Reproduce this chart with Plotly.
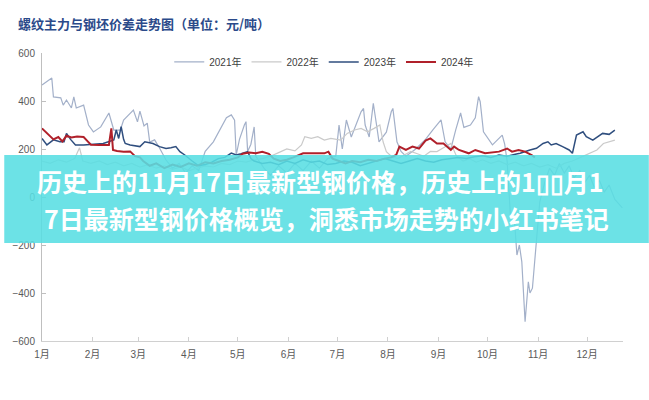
import plotly.graph_objects as go

# ---------------- data (day-of-year, spread 元/吨) ----------------
month_days = [0, 31, 59, 90, 120, 151, 181, 212, 243, 273, 304, 334]
month_labels = ["1月", "2月", "3月", "4月", "5月", "6月", "7月", "8月", "9月", "10月", "11月", "12月"]
y_ticks = [600, 400, 200, 0, -200, -400, -600]

series_2021 = [(0,467),(4,488),(6,496),(7,417),(11.5,413),(13,383),(15,404),(18,371),(19.5,417),(21,371),
    (25.5,383),(28.5,300),(31.5,271),(36,292),(39.5,329),(41,350),(44,279),(48,279),(50,321),(54,350),
    (56,362),(58.5,313),(60,358),(62.5,296),(64.5,308),(66,229),(69,238),(72,204),(76,154),(80,120),
    (84,140),(88,100),(92,130),(96,110),(100,190),(105,230),(110,290),(113,330),(116,342),(118,320),
    (119,175),(121,240),(124,300),(125,314),(126,190),(128,220),(130,292),(131,170),(133,150),(136,120),
    (140,90),(145,130),(150,100),(155,140),(160,110),(165,150),(170,120),(175,160),(180,170),(182,300),
    (184,200),(186.5,321),(189.5,250),(192.5,300),(195.5,355),(197,369),(198,300),(200.5,250),(203,390),
    (205,300),(206.5,230),(211,270),(214,355),(215,369),(217.5,230),(220,190),(223,170),(229,200),
    (235,240),(239.5,280),(244.5,321),(247,230),(250.5,200),(253.5,280),(256.5,350),(258.5,290),
    (262.5,300),(265.5,330),(267.5,418),(268.5,397),(270.5,272),(276,217),(282,258),(283.5,220),
    (285,150),(287,-75),(289,-60),(290,-145),(291,-242),(292.5,-200),(294,-270),(296,-520),(298,-353),
    (299,-400),(300.5,-380),(301.5,-300),(303.5,-158),(305,-20),(308,60),(311,120),(314,90),(317,140),
    (320,100),(323,130),(326,80),(329.5,110),(332.5,60),(335.5,90),(338.5,40),(341.5,70),(344.5,20),
    (347.5,50),(351,-10),(354,-30),(355.6,-45)]

series_2022 = [(0,150),(5,140),(10,155),(15,145),(20,160),(23,205),(25,150),(30,140),(35,150),(40,135),
    (45,145),(50,130),(55,140),(60,125),(65,135),(70,120),(75,130),(80,115),(85,125),(90,110),(95,120),
    (100,130),(105,125),(110,140),(115,135),(120,150),(125,145),(130,155),(135,160),(140,170),(145,185),
    (150,200),(155,192),(159,217),(161,251),(165,244),(169,251),(173,237),(177,244),(183,237),(187,265),
    (191.5,279),(195.5,286),(199.5,272),(203.5,286),(207,300),(209,230),(211,189),(214,170),(218,160),
    (222,175),(226,190),(230,180),(234,170),(238,190),(242,189),(246,205),(250.5,223),(254,170),
    (258,150),(262,160),(266,145),(270,155),(275,140),(280,150),(285,135),(290,145),(295,130),(300,140),
    (305,125),(310,135),(315,120),(320,140),(325,150),(330,165),(333.5,175),(337,185),(340,196),
    (344,223),(348,230),(351,237)]

series_2023 = [(0,244),(3,217),(7,238),(11,230),(13.5,230),(15,265),(17.5,240),(20.5,217),(25.5,217),
    (30,220),(37.5,223),(44,238),(45.5,279),(47,244),(48.5,293),(50,240),(51,223),(54,217),(57,213),
    (60,210),(63,230),(68,223),(72,210),(76,202),(79,205),(82,210),(84.5,189),(87.5,175),(92,150),
    (96,130),(100,135),(104,145),(108,160),(112,165),(116,183),(119,175),(122,180),(126,189),(128,160),
    (130,150),(135,140),(140,145),(145,135),(150,150),(155,140),(160,155),(165,145),(170,150),(175,135),
    (180,140),(185,150),(190,145),(195,130),(200,140),(205,150),(210,160),(215,150),(220,140),(225,150),
    (230,160),(235,150),(240,145),(245,155),(250,160),(255,165),(260,160),(265,168),(270,172),(275,165),
    (280,175),(285,170),(290,178),(293,182),(299,196),(303,203),(307,223),(310,230),(312,217),(315,223),
    (319,210),(323,196),(325,182),(327.5,258),(331.5,272),(333.5,251),(337.5,237),(340.5,251),
    (343.5,265),(347.5,261),(349.5,272),(351,279)]

series_2024 = [(0,286),(3,265),(7,240),(10,250),(12.5,232),(15,255),(18,248),(21.5,252),(25.5,250),
    (28,232),(30,218),(35,217),(41,217),(42.5,286),(43.5,196),(46,192),(50,189),(54,190),(57,170),
    (60,165),(62,150),(66,130),(70,140),(75,120),(80,135),(85,125),(90,140),(95,130),(100,145),(105,140),
    (110,150),(115,155),(120,165),(123,180),(127,185),(131,182),(135,188),(139,180),(142,160),(146,150),
    (150,155),(154,165),(157,175),(160,182),(167,182),(173,182),(175.5,189),(178,160),(182,150),
    (186,140),(190,150),(195,145),(200,155),(205,150),(210,160),(214,165),(217,175),(219,210),(223,196),
    (227,210),(231,202),(235,235),(238,244),(242,223),(246,223),(250.5,196),(252.5,210),(255.5,196),
    (261.5,182),(265.5,196),(271.5,182),(280,189),(285,202),(288,189),(292,196),(296,189),(300,175),
    (302,165)]

series_names = ["2021年", "2022年", "2023年", "2024年"]
chart_title = "螺纹主力与钢坯价差走势图（单位：元/吨）"
banner_line1 = "历史上的11月17日最新型钢价格，历史上的1\u25af\u25af月1"
banner_line2 = "7日最新型钢价格概览，洞悉市场走势的小红书笔记"

# ---------------- styles ----------------
styles = [
    dict(color="#A3B0C9", width=1.2),
    dict(color="#CACACA", width=1.2),
    dict(color="#2F4E7E", width=1.5),
    dict(color="#B0202A", width=2.0),
]

fig = go.Figure()
for name, data, st in zip(series_names,
                          [series_2021, series_2022, series_2023, series_2024], styles):
    fig.add_trace(go.Scatter(
        x=[d for d, _ in data], y=[v for _, v in data], mode="lines", name=name,
        line=dict(color=st["color"], width=st["width"]),
        hoverinfo="skip"))

tick_font = dict(family="Liberation Sans, Noto Sans CJK SC", size=10, color="#595959")

fig.update_layout(
    width=649, height=400,
    margin=dict(l=38, r=26, t=53, b=59),
    paper_bgcolor="white", plot_bgcolor="white",
    showlegend=True,
    legend=dict(orientation="h", x=0.219, y=0.969, xanchor="left", yanchor="middle",
                font=dict(family="Liberation Sans, Noto Sans CJK SC", size=10, color="#404040"),
                bgcolor="rgba(0,0,0,0)", tracegroupgap=0),
    title=dict(text=chart_title, x=18/649, xanchor="left", y=1-24/400, yanchor="middle",
               font=dict(family="Noto Sans CJK SC", size=13, color="#2B4A8A", weight="bold")),
    xaxis=dict(range=[0, 356], tickmode="array", tickvals=month_days, ticktext=month_labels,
               showgrid=False, zeroline=False, showline=True, linecolor="#D0D0D0", linewidth=1,
               ticks="inside", ticklen=4, tickcolor="#D0D0D0", tickfont=tick_font,
               ticklabelstandoff=4),
    yaxis=dict(range=[-600, 600], tickmode="array", tickvals=y_ticks,
               showgrid=False, zeroline=False, showline=True, linecolor="#BFBFBF", linewidth=1,
               ticks="inside", ticklen=4, tickcolor="#BFBFBF", tickfont=tick_font,
               ticklabelstandoff=4),
)

# translucent banner across the chart
fig.add_shape(type="rect", xref="paper", yref="paper",
              x0=-38/585, x1=(649-38)/585, y0=(341-243)/288, y1=(341-155)/288,
              fillcolor="rgba(88,222,226,0.88)", line=dict(width=0), layer="above")

banner_font = dict(family="Noto Sans CJK SC", size=25, color="white", weight="bold")
fig.add_annotation(text=banner_line1, xref="paper", yref="paper",
                   x=(318-38)/585, y=(341-181)/288, xanchor="center", yanchor="middle",
                   showarrow=False, font=banner_font)
fig.add_annotation(text=banner_line2, xref="paper", yref="paper",
                   x=(324-38)/585, y=(341-218)/288, xanchor="center", yanchor="middle",
                   showarrow=False, font=banner_font)

fig.write_html("out.html", config={"displayModeBar": False},
               post_script="document.body.style.margin='0';")
